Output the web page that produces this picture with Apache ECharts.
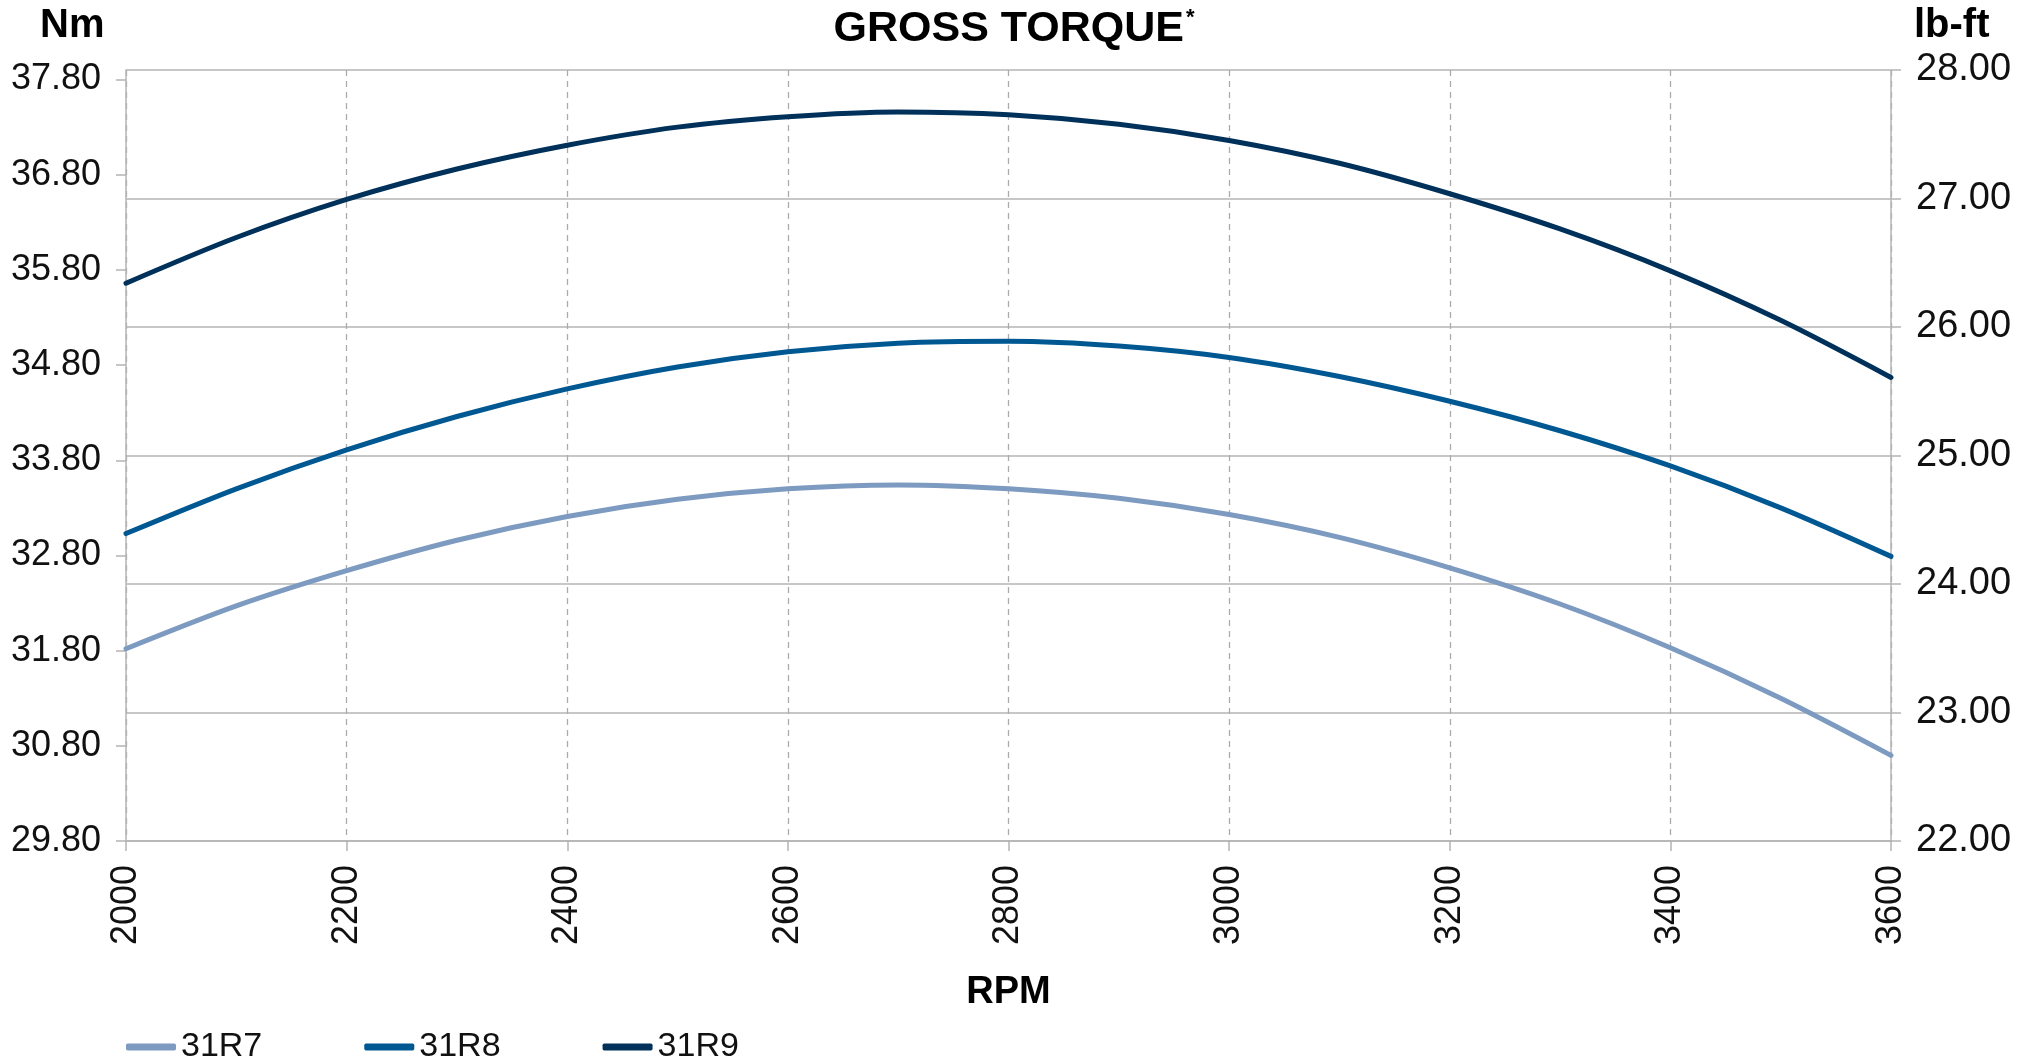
<!DOCTYPE html>
<html>
<head>
<meta charset="utf-8">
<title>Gross Torque</title>
<script src="https://cdn.jsdelivr.net/npm/echarts@6/dist/echarts.min.js"></script>
<style>
  html, body { margin: 0; padding: 0; background: #fff; }
  #torqueChart { width: 2034px; height: 1064px; }
</style>
</head>
<body>
<div id="torqueChart"></div>
<script>
// engine speed, rpm
const rpm = [2000, 2100, 2200, 2300, 2400, 2500, 2600, 2700, 2800, 2900, 3000, 3100, 3200, 3300, 3400, 3500, 3600];
// gross torque, Nm
const torque31R7 = [31.82, 32.27, 32.64, 32.96, 33.21, 33.39, 33.50, 33.54, 33.50, 33.40, 33.23, 32.99, 32.67, 32.29, 31.83, 31.30, 30.70];
const torque31R8 = [33.03, 33.50, 33.91, 34.26, 34.55, 34.78, 34.94, 35.03, 35.05, 35.00, 34.88, 34.68, 34.42, 34.11, 33.74, 33.30, 32.79];
const torque31R9 = [35.66, 36.14, 36.54, 36.86, 37.11, 37.30, 37.41, 37.46, 37.43, 37.33, 37.16, 36.92, 36.60, 36.23, 35.79, 35.27, 34.67];
// tick labels
const nmTicks = [29.8, 30.8, 31.8, 32.8, 33.8, 34.8, 35.8, 36.8, 37.8];
const seriesNames = ['31R7', '31R8', '31R9'];
const seriesColors = ['#7d9ac1', '#005892', '#00315a'];

const gridGrey = '#b4b4b4';
const sans = 'Liberation Sans';

function pairs(values) {
  return rpm.map((x, i) => [x, values[i]]);
}

const chart = echarts.init(document.getElementById('torqueChart'));

const option = {
  animation: false,
  title: [
    {
      text: '{t|GROSS TORQUE}{s|*}',
      left: 1009,
      top: 2,
      textAlign: 'center',
      textStyle: {
        rich: {
          t: { fontFamily: sans, fontWeight: 'bold', fontSize: 43, color: '#000', lineHeight: 44 },
          s: { fontFamily: sans, fontWeight: 'bold', fontSize: 22, color: '#000', verticalAlign: 'top', lineHeight: 44, padding: [0, 0, 18, 2] }
        }
      }
    },
    {
      text: 'Nm',
      left: 40,
      top: 6,
      padding: 0,
      textStyle: { fontFamily: sans, fontWeight: 'bold', fontSize: 40, color: '#000' }
    },
    {
      text: 'lb-ft',
      left: 1914,
      top: 6,
      padding: 0,
      textStyle: { fontFamily: sans, fontWeight: 'bold', fontSize: 40, color: '#000' }
    }
  ],
  legend: {
    data: seriesNames,
    left: 126,
    top: 1030,
    padding: 0,
    itemWidth: 50,
    itemHeight: 7,
    itemGap: 102,
    icon: 'roundRect',
    textStyle: { fontFamily: sans, fontSize: 34, color: '#111' }
  },
  grid: {
    left: 126,
    right: 143,
    top: 70,
    bottom: 223,
    containLabel: false
  },
  xAxis: {
    type: 'value',
    min: 2000,
    max: 3600,
    interval: 200,
    name: 'RPM',
    nameLocation: 'middle',
    nameGap: 133,
    nameTextStyle: { fontFamily: sans, fontWeight: 'bold', fontSize: 38, color: '#000' },
    axisLine: { show: true, lineStyle: { color: gridGrey, width: 1.5 } },
    axisTick: { show: true, length: 10, lineStyle: { color: gridGrey, width: 1.5 } },
    axisLabel: {
      rotate: 90,
      margin: 24,
      fontFamily: sans,
      fontSize: 36,
      color: '#111',
      formatter: v => String(v)
    },
    splitLine: {
      show: true,
      lineStyle: { color: '#ababab', width: 1.3, type: [6, 5] }
    }
  },
  yAxis: [
    {
      type: 'value',
      position: 'left',
      min: 29.8,
      max: 37.9,
      axisLine: { show: true, lineStyle: { color: gridGrey, width: 1.5 } },
      axisTick: { show: true, length: 10, customValues: nmTicks, lineStyle: { color: gridGrey, width: 1.5 } },
      axisLabel: {
        customValues: nmTicks,
        margin: 25,
        fontFamily: sans,
        fontSize: 36,
        color: '#111',
        formatter: v => v.toFixed(2)
      },
      splitLine: { show: false }
    },
    {
      type: 'value',
      position: 'right',
      min: 22,
      max: 28,
      interval: 1,
      axisLine: { show: true, lineStyle: { color: gridGrey, width: 1.5 } },
      axisTick: { show: true, length: 10, lineStyle: { color: gridGrey, width: 1.5 } },
      axisLabel: {
        margin: 25,
        fontFamily: sans,
        fontSize: 38,
        color: '#111',
        formatter: v => v.toFixed(2)
      },
      splitLine: { show: true, lineStyle: { color: gridGrey, width: 1.5 } }
    }
  ],
  series: [torque31R7, torque31R8, torque31R9].map((values, i) => ({
    name: seriesNames[i],
    type: 'line',
    yAxisIndex: 0,
    data: pairs(values),
    smooth: 0.3,
    symbol: 'none',
    color: seriesColors[i],
    lineStyle: { width: 5, color: seriesColors[i], cap: 'round' },
    z: 3 + i
  }))
};

chart.setOption(option);
</script>
</body>
</html>
